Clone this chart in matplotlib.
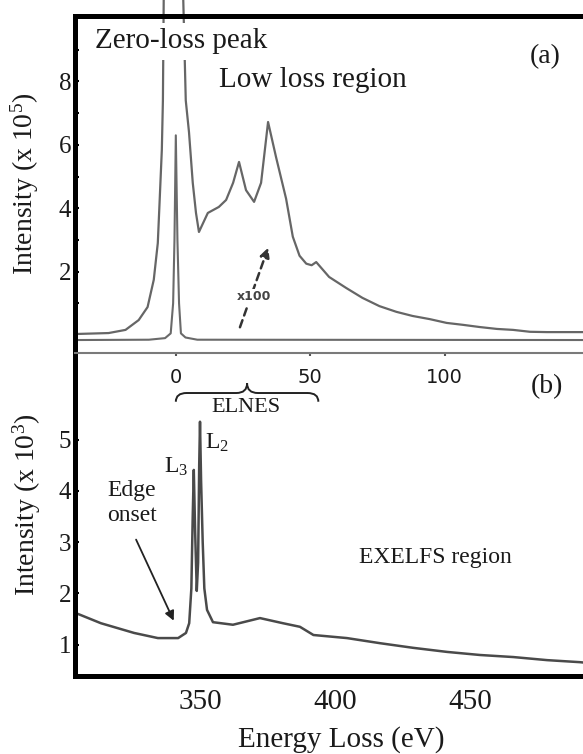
import matplotlib.pyplot as plt
from matplotlib.path import Path
from matplotlib.patches import PathPatch
from matplotlib.transforms import blended_transform_factory

# low-loss spectrum, x100 trace (eV, intensity x10^5)
lowloss_x100_ev = [-37.3, -25.0, -18.7, -13.8, -10.5, -8.2, -6.7, -6.0, -5.2, -4.8,
                   -4.5, -3.0, 2.5, 3.7, 4.9, 6.3, 7.5, 8.6, 11.9, 16.0, 18.7, 21.3,
                   23.5, 26.1, 29.1, 31.7, 34.3, 37.3, 41.0, 43.5, 46.0, 48.5, 50.5,
                   52.2, 57.0, 63.4, 69.4, 75.7, 82.0, 88.0, 94.4, 100.7, 106.7,
                   113.0, 119.4, 125.4, 131.7, 138.0, 154.0]
lowloss_x100_int = [0.03, 0.06, 0.16, 0.47, 0.88, 1.74, 2.9, 4.26, 5.84, 7.4,
                    10.6, 11.5, 11.5, 7.4, 6.4, 4.8, 3.85, 3.25, 3.85, 4.04, 4.26, 4.8,
                    5.46, 4.57, 4.2, 4.8, 6.72, 5.6, 4.3, 3.1, 2.5, 2.25, 2.2,
                    2.3, 1.83, 1.48, 1.17, 0.91, 0.73, 0.6, 0.5, 0.38, 0.32,
                    0.25, 0.19, 0.16, 0.1, 0.09, 0.09]

# low-loss spectrum, x1 trace (zero-loss peak)
lowloss_ev = [-37.3, -10.0, -4.0, -1.9, -1.0, -0.5, 0.0, 0.6, 1.2, 1.9, 3.6, 8.0, 154.0]
lowloss_int = [-0.16, -0.15, -0.1, 0.05, 1.0, 3.0, 6.3, 3.0, 1.0, 0.05, -0.08, -0.15, -0.16]

# core-loss spectrum around the L3/L2 edge (eV, intensity x10^3)
core_ev = [303.9, 305.8, 313.3, 325.6, 334.4, 341.9, 344.8, 346.0, 346.8, 347.3, 347.7,
           348.2, 348.8, 349.3, 349.7, 350.0, 350.4, 351.0, 351.6, 352.6, 354.8, 362.2,
           372.2, 380.7, 387.0, 392.0, 404.4, 416.7, 428.9, 441.5, 453.7, 466.0, 478.5,
           490.7, 494.4]
core_int = [1.62, 1.58, 1.42, 1.23, 1.13, 1.13, 1.23, 1.42, 2.1, 3.5, 4.41,
            3.2, 2.05, 2.6, 4.5, 5.35, 4.2, 3.0, 2.1, 1.68, 1.44, 1.39,
            1.52, 1.42, 1.35, 1.19, 1.13, 1.03, 0.94, 0.86, 0.80, 0.76, 0.70,
            0.66, 0.64]

lowloss_ticks = [0, 50, 100]
core_ticks = [350, 400, 450]

plt.rcParams['font.family'] = ['Liberation Serif', 'DejaVu Serif']
plt.rcParams['mathtext.fontset'] = 'custom'
plt.rcParams['mathtext.rm'] = 'Liberation Serif'
plt.rcParams['mathtext.it'] = 'Liberation Serif:italic'
plt.rcParams['mathtext.bf'] = 'Liberation Serif:bold'
txt = '#1a1a1a'

fig = plt.figure(figsize=(5.83, 7.54), dpi=100)
ax_b = fig.add_axes([0.1295, 0.1041, 0.8825, 0.4277])
ax_a = fig.add_axes([0.1295, 0.5318, 0.8825, 0.4476])
ax_a.patch.set_visible(False)
ax_b.patch.set_visible(False)

# (a) low loss
ax_a.plot(lowloss_x100_ev, lowloss_x100_int, color='#666666', lw=1.6, clip_on=False)
ax_a.plot(lowloss_ev, lowloss_int, color='#6a6a6a', lw=1.5)
ax_a.set_xlim(-37.3, 154)
ax_a.set_ylim(-0.57, 10.08)
ax_a.set_yticks([2, 4, 6, 8])
ax_a.set_yticks([1, 3, 5, 7, 9], minor=True)
ax_a.set_xticks(lowloss_ticks)
ax_a.tick_params(axis='y', which='both', direction='in', length=3, width=1.5,
                 labelsize=18, pad=3, labelcolor=txt)
ax_a.tick_params(axis='x', direction='out', length=2, width=1.5, color='#555555',
                 labelsize=14, pad=9, labelcolor=txt)
for lab in ax_a.get_xticklabels():
    lab.set_family('DejaVu Sans')
ax_a.spines['right'].set_visible(False)
ax_a.spines['left'].set_linewidth(3.6)
ax_a.spines['top'].set_linewidth(3.6)
ax_a.spines['bottom'].set_linewidth(1.5)
ax_a.spines['bottom'].set_color('#7a7a7a')
ax_a.set_ylabel('Intensity (x 10$^5$)', fontsize=20, color=txt, va='center')
ax_a.yaxis.set_label_coords(-0.098, 0.5)

ax_a.text(-29.9, 9.27, 'Zero-loss peak', fontsize=21, color=txt, va='center', ha='left',
          bbox=dict(facecolor='white', edgecolor='none', pad=4), zorder=5)
ax_a.text(16.0, 8.04, 'Low loss region', fontsize=21, color=txt, va='center', ha='left')
ax_a.text(137.3, 8.77, '(a)', fontsize=20, color=txt, va='center', ha='center')
ax_a.annotate('', xy=(34.7, 2.84), xytext=(23.5, 0.16),
              arrowprops=dict(arrowstyle='-|>', linestyle=(0, (3, 2)), color='#333333',
                              lw=1.8, mutation_scale=14))
ax_a.text(29.1, 1.2, 'x100', fontsize=9, color='#444444', family='DejaVu Sans',
          weight='bold', ha='center', va='center',
          bbox=dict(facecolor='white', edgecolor='none', pad=1), zorder=5)

# (b) core loss
ax_b.plot(core_ev, core_int, color='#4a4a4a', lw=1.8)
ax_b.set_xlim(303.9, 494.4)
ax_b.set_ylim(0.4, 6.69)
ax_b.set_yticks([1, 2, 3, 4, 5])
ax_b.set_xticks(core_ticks)
ax_b.tick_params(axis='y', direction='in', length=3, width=1.5, labelsize=18, pad=3,
                 labelcolor=txt)
ax_b.tick_params(axis='x', length=0, labelsize=21, pad=10, labelcolor=txt)
ax_b.spines['right'].set_visible(False)
ax_b.spines['top'].set_visible(False)
ax_b.spines['left'].set_linewidth(3.6)
ax_b.spines['bottom'].set_linewidth(3.6)
ax_b.set_ylabel('Intensity (x 10$^3$)', fontsize=20, color=txt, va='center')
ax_b.yaxis.set_label_coords(-0.094, 0.529)
ax_b.set_xlabel('Energy Loss (eV)', fontsize=21, color=txt, va='center')
ax_b.xaxis.set_label_coords(0.516, -0.2)

ax_b.text(478.5, 6.03, '(b)', fontsize=20, color=txt, va='center', ha='center')
ax_b.text(437, 2.71, 'EXELFS region', fontsize=17, color=txt, va='center', ha='center')
ax_b.text(315.6, 3.77, 'Edge\nonset', fontsize=17, color=txt, va='center', ha='left',
          linespacing=1.25)
ax_b.annotate('', xy=(340.7, 1.42), xytext=(325.9, 3.10),
              arrowprops=dict(arrowstyle='-|>', color='#222222', lw=1.3, mutation_scale=14))
ax_b.text(345.6, 4.47, 'L$_3$', fontsize=17, color=txt, va='center', ha='right')
ax_b.text(351.9, 4.94, 'L$_2$', fontsize=17, color=txt, va='center', ha='left')

# ELNES brace spans the 0-53 eV range of the low-loss axis
def brace(ax, trans, x0, x1, yb, yl, yt, r):
    xm = (x0 + x1) / 2
    verts = [(x0, yb), (x0, yl), (x0 + r, yl), (xm - r, yl), (xm, yl), (xm, yt),
             (xm, yl), (xm + r, yl), (x1 - r, yl), (x1, yl), (x1, yb)]
    codes = [Path.MOVETO, Path.CURVE3, Path.CURVE3, Path.LINETO, Path.CURVE3, Path.CURVE3,
             Path.CURVE3, Path.CURVE3, Path.LINETO, Path.CURVE3, Path.CURVE3]
    ax.add_patch(PathPatch(Path(verts, codes), transform=trans, facecolor='none',
                           edgecolor='#222222', lw=1.4, clip_on=False))

elnes_trans = blended_transform_factory(ax_a.transData, ax_b.transData)
brace(ax_b, elnes_trans, 0, 53, 5.74, 5.91, 6.1, 4)
ax_b.text(26.1, 5.62, 'ELNES', fontsize=16, color=txt, va='center', ha='center',
          transform=elnes_trans)

fig.savefig('out.png', dpi=100)
